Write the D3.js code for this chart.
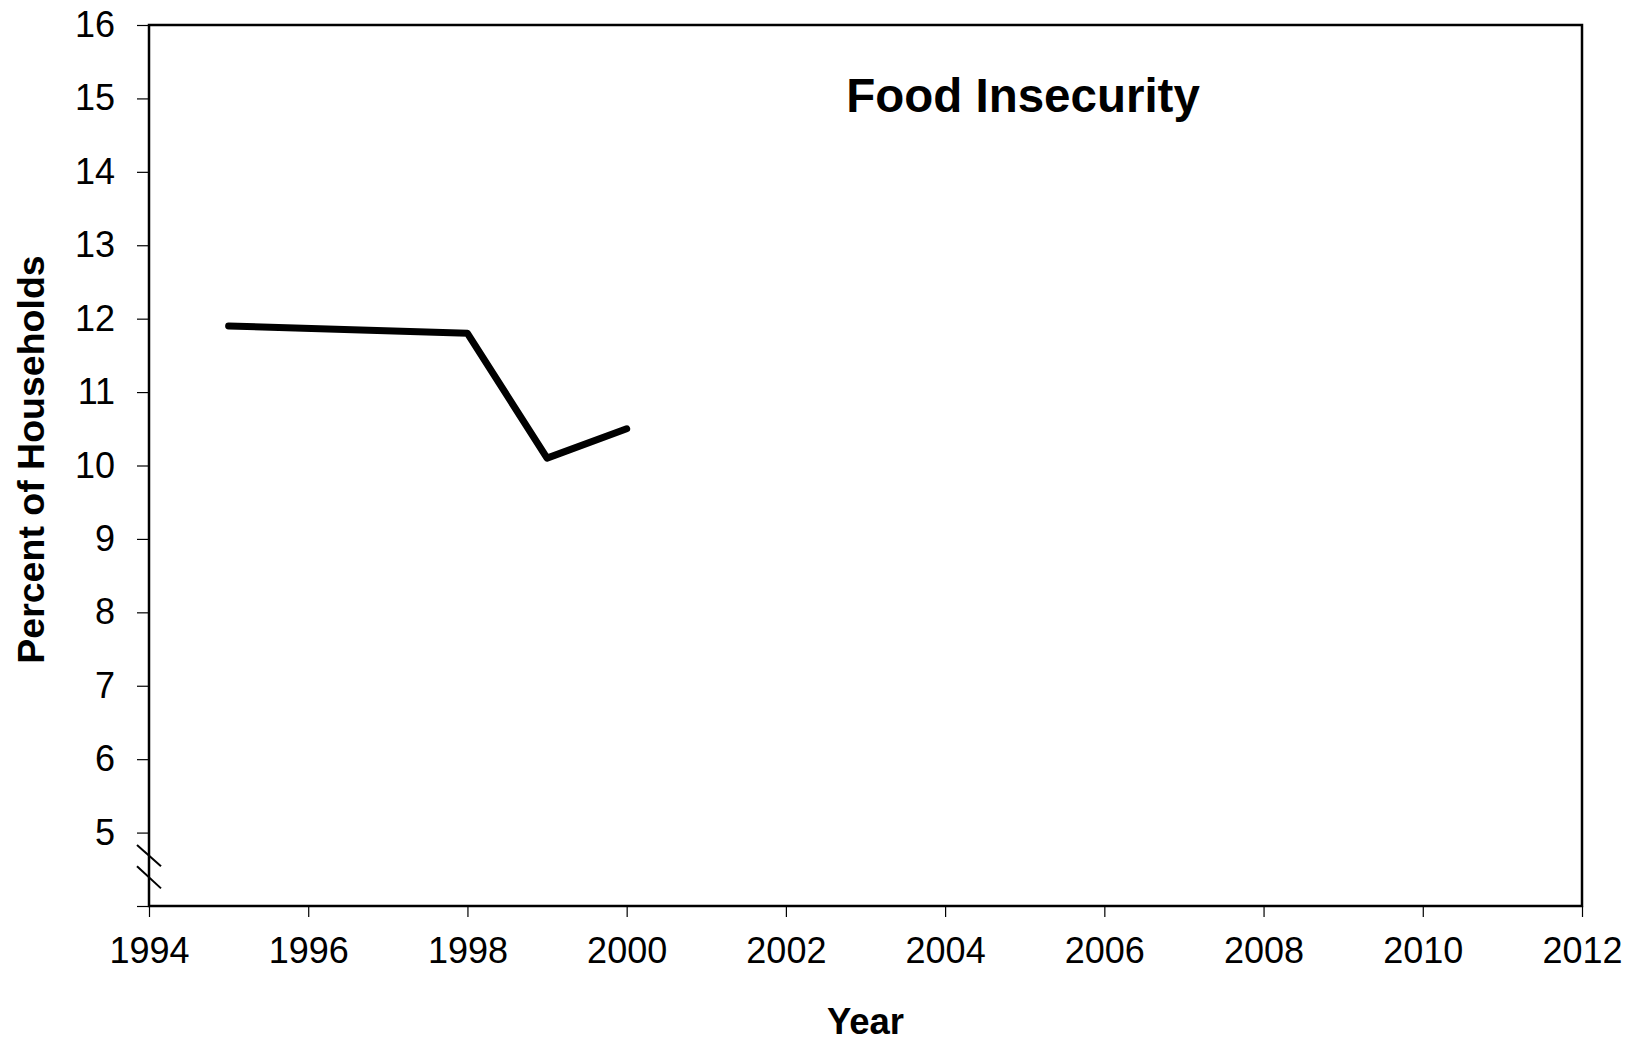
<!DOCTYPE html>
<html>
<head>
<meta charset="utf-8">
<script src="https://cdn.jsdelivr.net/npm/d3@7"></script>
<style>
  html, body { margin: 0; padding: 0; background: #fff; }
  svg { display: block; font-family: "Liberation Sans", Arial, sans-serif; }
</style>
</head>
<body>
<script>
// Food insecurity, percent of households
const years = [1995, 1998, 1999, 2000];
const percents = [11.9, 11.8, 10.1, 10.5];
const xTicks = [1994, 1996, 1998, 2000, 2002, 2004, 2006, 2008, 2010, 2012];
const yTicks = [4, 5, 6, 7, 8, 9, 10, 11, 12, 13, 14, 15, 16];
const yLabelled = [5, 6, 7, 8, 9, 10, 11, 12, 13, 14, 15, 16];

const W = 1627, H = 1040;
const margin = { top: 25, right: 45, bottom: 134, left: 149 };
const iw = W - margin.left - margin.right;
const ih = H - margin.top - margin.bottom;

const svg = d3.select("body").append("svg").attr("width", W).attr("height", H);
const g = svg.append("g").attr("transform", `translate(${margin.left},${margin.top})`);

const x = d3.scaleLinear().domain([1994, 2012]).range([0, iw]);
const y = d3.scaleLinear().domain([4, 16]).range([ih, 0]);

// plot frame
g.append("rect")
  .attr("x", 0).attr("y", 0).attr("width", iw).attr("height", ih)
  .attr("fill", "none").attr("stroke", "#000").attr("stroke-width", 2.5);

// x axis
const xAxis = g.append("g").attr("transform", `translate(0,${ih})`)
  .call(d3.axisBottom(x).tickValues(xTicks).tickFormat(d3.format("d")).tickSize(11).tickPadding(20));
xAxis.select(".domain").remove();
xAxis.selectAll(".tick line").attr("stroke", "#000").attr("stroke-width", 1.2);
xAxis.selectAll(".tick text").attr("font-size", 36).attr("fill", "#000")
  .attr("font-family", "Liberation Sans, Arial, sans-serif");

// y axis
const yAxis = g.append("g")
  .call(d3.axisLeft(y).tickValues(yTicks)
    .tickFormat(d => yLabelled.includes(d) ? d : "").tickSize(12).tickPadding(22));
yAxis.select(".domain").remove();
yAxis.selectAll(".tick line").attr("stroke", "#000").attr("stroke-width", 1.2);
yAxis.selectAll(".tick text").attr("font-size", 36).attr("fill", "#000")
  .attr("font-family", "Liberation Sans, Arial, sans-serif");

// axis break marks
const brk = [[4.83, 4.54], [4.54, 4.24]];
g.selectAll("line.brk").data(brk).enter().append("line")
  .attr("class", "brk")
  .attr("x1", -12).attr("x2", 12)
  .attr("y1", d => y(d[0])).attr("y2", d => y(d[1]))
  .attr("stroke", "#000").attr("stroke-width", 2);

// data line
const pts = years.map((yr, i) => [yr, percents[i]]);
g.append("path")
  .datum(pts)
  .attr("fill", "none")
  .attr("stroke", "#000")
  .attr("stroke-width", 7)
  .attr("stroke-linejoin", "round")
  .attr("stroke-linecap", "round")
  .attr("d", d3.line().x(d => x(d[0])).y(d => y(d[1])));

// title
svg.append("text")
  .attr("x", 1023).attr("y", 112)
  .attr("text-anchor", "middle")
  .attr("font-size", 47.5).attr("font-weight", "bold")
  .text("Food Insecurity");

// axis titles
svg.append("text")
  .attr("transform", `translate(44,${margin.top + ih / 2 - 6}) rotate(-90)`)
  .attr("text-anchor", "middle")
  .attr("font-size", 37.5).attr("font-weight", "bold")
  .text("Percent of Households");

svg.append("text")
  .attr("x", margin.left + iw / 2).attr("y", 1034)
  .attr("text-anchor", "middle")
  .attr("font-size", 36.5).attr("font-weight", "bold")
  .text("Year");
</script>
</body>
</html>
